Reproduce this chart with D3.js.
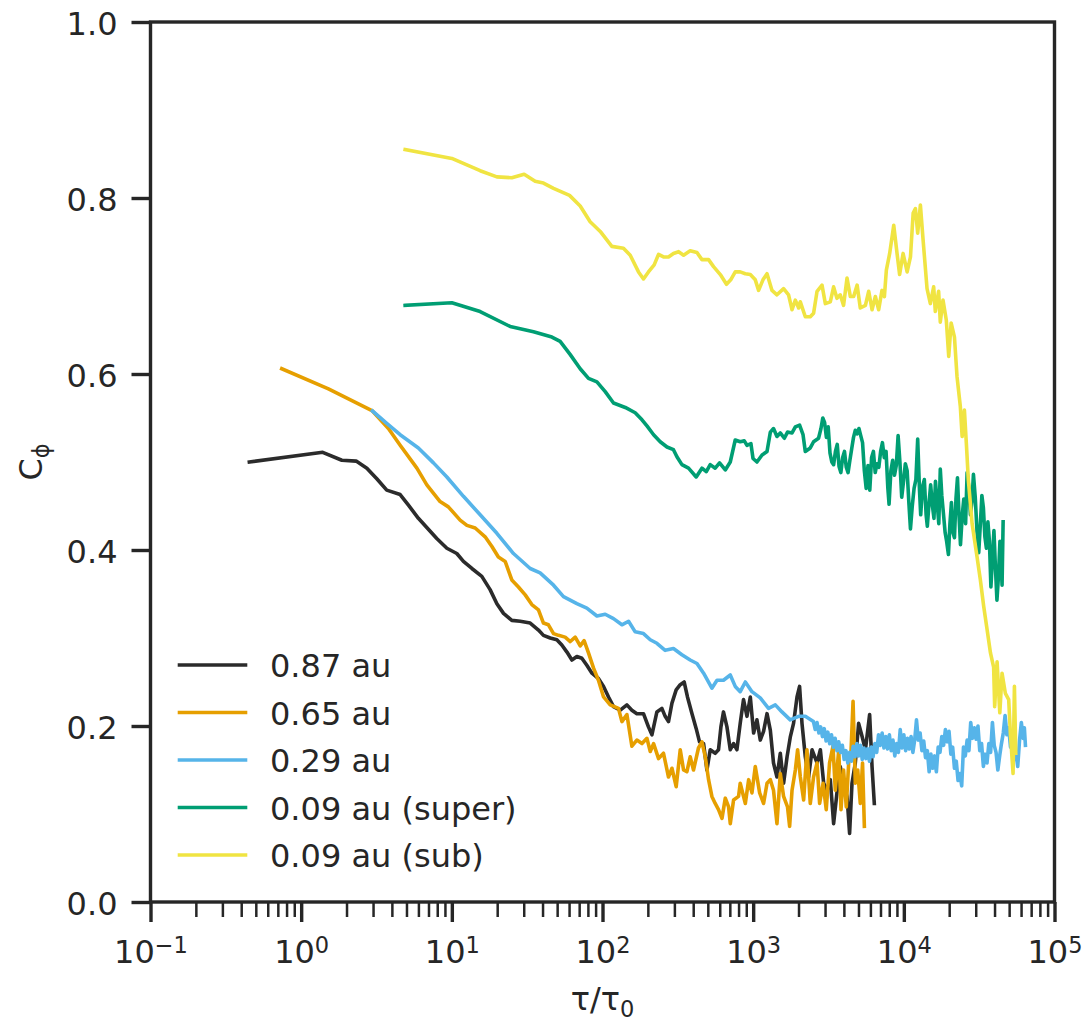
<!DOCTYPE html>
<html>
<head>
<meta charset="utf-8">
<script src="https://cdn.jsdelivr.net/npm/d3@7"></script>
<style>
  body { margin: 0; background: #fff; }
  text { font-family: "DejaVu Sans", sans-serif; fill: #262626; }
</style>
</head>
<body>
<svg id="chart" width="1086" height="1023"></svg>
<script>
// ---- data: lag (log10 of tau/tau0) and correlation C_phi ----
const seriesNames = ["0.87 au", "0.65 au", "0.29 au", "0.09 au (super)", "0.09 au (sub)"];
const xTickExponents = [-1, 0, 1, 2, 3, 4, 5];
const yTickValues = [0, 0.2, 0.4, 0.6, 0.8, 1.0];

const au087 = [[-0.344,0.500],[0.143,0.511],[0.270,0.502],[0.365,0.501],[0.436,0.493],[0.502,0.481],[0.568,0.468],[0.657,0.463],[0.712,0.451],[0.778,0.436],[0.900,0.413],[0.967,0.402],[1.033,0.396],[1.077,0.387],[1.133,0.379],[1.199,0.370],[1.254,0.355],[1.299,0.339],[1.343,0.328],[1.398,0.320],[1.454,0.319],[1.520,0.317],[1.575,0.309],[1.608,0.303],[1.653,0.300],[1.697,0.298],[1.730,0.292],[1.764,0.284],[1.797,0.275],[1.830,0.279],[1.863,0.277],[1.896,0.269],[1.930,0.260],[1.973,0.254],[2.007,0.245],[2.040,0.233],[2.073,0.222],[2.118,0.218],[2.162,0.224],[2.195,0.218],[2.228,0.214],[2.272,0.214],[2.305,0.199],[2.328,0.190],[2.361,0.216],[2.394,0.220],[2.416,0.211],[2.438,0.205],[2.461,0.226],[2.489,0.241],[2.516,0.247],[2.542,0.250],[2.564,0.233],[2.594,0.214],[2.622,0.197],[2.644,0.182],[2.671,0.180],[2.693,0.150],[2.715,0.173],[2.748,0.169],[2.770,0.173],[2.786,0.199],[2.803,0.216],[2.826,0.199],[2.848,0.173],[2.870,0.180],[2.892,0.173],[2.914,0.203],[2.936,0.230],[2.959,0.211],[2.981,0.233],[3.003,0.192],[3.025,0.207],[3.047,0.184],[3.069,0.194],[3.092,0.214],[3.114,0.195],[3.135,0.158],[3.158,0.142],[3.180,0.169],[3.202,0.135],[3.225,0.165],[3.247,0.188],[3.268,0.203],[3.291,0.233],[3.308,0.245],[3.324,0.203],[3.346,0.165],[3.368,0.142],[3.391,0.173],[3.424,0.158],[3.446,0.173],[3.468,0.135],[3.490,0.127],[3.512,0.139],[3.534,0.089],[3.556,0.124],[3.578,0.154],[3.600,0.135],[3.623,0.120],[3.640,0.078],[3.656,0.135],[3.678,0.158],[3.700,0.203],[3.723,0.188],[3.745,0.173],[3.773,0.213],[3.789,0.154],[3.804,0.112]];

const au065 = [[-0.129,0.606],[0.181,0.583],[0.473,0.558],[0.579,0.538],[0.657,0.519],[0.768,0.493],[0.834,0.474],[0.922,0.455],[0.977,0.449],[1.055,0.434],[1.100,0.428],[1.155,0.425],[1.221,0.415],[1.266,0.404],[1.309,0.392],[1.354,0.387],[1.398,0.366],[1.442,0.358],[1.487,0.349],[1.531,0.338],[1.575,0.332],[1.608,0.317],[1.641,0.315],[1.675,0.305],[1.708,0.303],[1.752,0.301],[1.786,0.296],[1.819,0.301],[1.852,0.291],[1.878,0.297],[1.907,0.283],[1.940,0.266],[1.973,0.252],[2.007,0.233],[2.051,0.224],[2.106,0.220],[2.129,0.205],[2.162,0.213],[2.195,0.177],[2.228,0.184],[2.262,0.180],[2.295,0.186],[2.317,0.171],[2.339,0.180],[2.372,0.163],[2.405,0.169],[2.438,0.142],[2.461,0.152],[2.489,0.131],[2.516,0.173],[2.538,0.150],[2.560,0.148],[2.582,0.165],[2.604,0.150],[2.637,0.175],[2.660,0.182],[2.682,0.165],[2.704,0.139],[2.726,0.120],[2.748,0.112],[2.770,0.105],[2.793,0.095],[2.815,0.118],[2.837,0.108],[2.848,0.089],[2.870,0.116],[2.903,0.120],[2.914,0.135],[2.948,0.112],[2.970,0.139],[2.992,0.124],[3.014,0.154],[3.043,0.124],[3.069,0.112],[3.092,0.135],[3.114,0.139],[3.135,0.127],[3.158,0.089],[3.180,0.146],[3.202,0.120],[3.228,0.108],[3.242,0.086],[3.258,0.127],[3.280,0.150],[3.295,0.173],[3.313,0.142],[3.335,0.116],[3.357,0.173],[3.379,0.112],[3.401,0.142],[3.424,0.158],[3.441,0.112],[3.464,0.135],[3.485,0.105],[3.507,0.158],[3.530,0.177],[3.545,0.127],[3.568,0.173],[3.583,0.105],[3.600,0.150],[3.618,0.108],[3.634,0.158],[3.650,0.173],[3.663,0.228],[3.678,0.135],[3.694,0.150],[3.711,0.112],[3.726,0.158],[3.738,0.086]];

const au029 = [[0.473,0.558],[0.568,0.544],[0.657,0.531],[0.778,0.516],[0.878,0.499],[0.967,0.483],[1.077,0.461],[1.188,0.440],[1.299,0.419],[1.409,0.396],[1.520,0.379],[1.586,0.374],[1.675,0.360],[1.741,0.347],[1.830,0.339],[1.896,0.334],[1.963,0.325],[2.018,0.327],[2.073,0.322],[2.129,0.315],[2.173,0.319],[2.217,0.307],[2.272,0.305],[2.317,0.298],[2.361,0.294],[2.416,0.286],[2.471,0.288],[2.527,0.281],[2.582,0.275],[2.627,0.271],[2.671,0.260],[2.726,0.243],[2.760,0.252],[2.803,0.252],[2.848,0.258],[2.881,0.245],[2.914,0.239],[2.948,0.250],[2.992,0.239],[3.047,0.232],[3.102,0.220],[3.147,0.224],[3.191,0.216],[3.246,0.207],[3.302,0.211],[3.346,0.211],
  [3.400,0.205],[3.412,0.196],[3.424,0.204],[3.436,0.192],[3.448,0.199],[3.460,0.188],[3.472,0.197],[3.484,0.183],[3.496,0.193],[3.508,0.180],[3.520,0.190],[3.532,0.176],[3.544,0.186],[3.556,0.172],[3.568,0.182],[3.580,0.170],[3.592,0.178],[3.604,0.162],[3.616,0.172],[3.628,0.158],[3.640,0.170],[3.652,0.160],[3.664,0.177],[3.676,0.165],[3.688,0.180],[3.700,0.166],[3.712,0.178],[3.724,0.162],[3.736,0.175],[3.748,0.163],[3.760,0.174],[3.772,0.160],[3.784,0.176],[3.796,0.165],[3.808,0.180],[3.820,0.170],[3.832,0.190],[3.844,0.178],[3.856,0.192],[3.868,0.175],[3.880,0.188],[3.892,0.174],[3.904,0.190],[3.916,0.172],[3.928,0.184],[3.940,0.166],[3.952,0.180],[3.964,0.170],[3.976,0.196],[3.988,0.175],[4.000,0.190],[4.012,0.172],[4.024,0.186],[4.036,0.174],[4.048,0.188],[4.060,0.170],[4.072,0.184],[4.084,0.207],[4.096,0.184],[4.108,0.192],[4.120,0.172],[4.132,0.183],[4.144,0.164],[4.156,0.172],[4.168,0.148],[4.180,0.168],[4.192,0.152],[4.204,0.166],[4.216,0.148],[4.228,0.176],[4.240,0.170],[4.252,0.188],[4.264,0.178],[4.276,0.196],[4.288,0.182],[4.300,0.194],[4.312,0.168],[4.324,0.176],[4.336,0.152],[4.348,0.160],[4.360,0.138],[4.372,0.146],[4.384,0.132],[4.396,0.176],[4.408,0.166],[4.420,0.184],[4.432,0.172],[4.444,0.204],[4.456,0.186],[4.468,0.198],[4.480,0.185],[4.492,0.200],[4.504,0.172],[4.516,0.180],[4.528,0.154],[4.540,0.168],[4.552,0.158],[4.564,0.180],[4.576,0.170],[4.588,0.204],[4.600,0.178],[4.612,0.170],[4.624,0.150],[4.636,0.166],[4.648,0.180],[4.660,0.192],[4.672,0.212],[4.684,0.190],[4.696,0.198],[4.708,0.176],[4.720,0.182],[4.732,0.162],[4.744,0.170],[4.756,0.154],[4.768,0.184],[4.780,0.204],[4.792,0.186],[4.800,0.198],[4.807,0.178]];

const au009super = [[0.690,0.678],[1.000,0.681],[1.188,0.671],[1.387,0.654],[1.542,0.648],[1.664,0.642],[1.719,0.637],[1.786,0.622],[1.852,0.606],[1.907,0.595],[1.963,0.591],[2.018,0.580],[2.073,0.567],[2.151,0.562],[2.217,0.556],[2.262,0.548],[2.295,0.541],[2.339,0.531],[2.383,0.523],[2.428,0.517],[2.471,0.514],[2.494,0.506],[2.527,0.497],[2.571,0.493],[2.622,0.483],[2.660,0.493],[2.689,0.489],[2.715,0.497],[2.748,0.493],[2.777,0.499],[2.815,0.491],[2.848,0.500],[2.881,0.525],[2.914,0.523],[2.941,0.524],[2.959,0.519],[2.985,0.521],[2.999,0.504],[3.025,0.500],[3.059,0.508],[3.092,0.512],[3.114,0.534],[3.135,0.538],[3.158,0.529],[3.180,0.533],[3.207,0.527],[3.228,0.534],[3.258,0.533],[3.280,0.540],[3.308,0.542],[3.331,0.531],[3.346,0.512],[3.379,0.516],[3.401,0.523],[3.434,0.527],
  [3.450,0.538],[3.462,0.550],[3.474,0.545],[3.486,0.528],[3.498,0.540],[3.510,0.510],[3.522,0.500],[3.534,0.497],[3.546,0.512],[3.558,0.520],[3.570,0.495],[3.582,0.488],[3.594,0.505],[3.606,0.512],[3.618,0.494],[3.630,0.488],[3.642,0.502],[3.654,0.515],[3.666,0.528],[3.678,0.536],[3.690,0.532],[3.702,0.538],[3.714,0.530],[3.726,0.522],[3.738,0.490],[3.750,0.470],[3.762,0.496],[3.774,0.468],[3.786,0.505],[3.798,0.512],[3.810,0.488],[3.822,0.498],[3.834,0.494],[3.846,0.512],[3.858,0.522],[3.870,0.505],[3.882,0.512],[3.894,0.470],[3.902,0.452],[3.914,0.490],[3.926,0.502],[3.938,0.485],[3.950,0.496],[3.962,0.530],[3.974,0.500],[3.986,0.460],[3.998,0.478],[4.010,0.498],[4.022,0.490],[4.034,0.452],[4.044,0.424],[4.056,0.450],[4.068,0.470],[4.080,0.480],[4.092,0.526],[4.104,0.468],[4.112,0.440],[4.124,0.472],[4.136,0.480],[4.148,0.440],[4.156,0.427],[4.168,0.455],[4.178,0.474],[4.190,0.450],[4.200,0.436],[4.210,0.478],[4.222,0.452],[4.232,0.430],[4.242,0.492],[4.252,0.462],[4.262,0.443],[4.274,0.420],[4.284,0.410],[4.296,0.395],[4.306,0.430],[4.316,0.454],[4.326,0.420],[4.336,0.414],[4.346,0.458],[4.356,0.482],[4.366,0.440],[4.376,0.406],[4.388,0.440],[4.398,0.458],[4.410,0.430],[4.420,0.488],[4.432,0.470],[4.442,0.440],[4.452,0.455],[4.462,0.486],[4.474,0.460],[4.486,0.420],[4.497,0.397],[4.508,0.430],[4.518,0.462],[4.528,0.448],[4.538,0.415],[4.548,0.402],[4.558,0.432],[4.568,0.410],[4.578,0.358],[4.588,0.390],[4.598,0.422],[4.608,0.380],[4.618,0.343],[4.628,0.370],[4.638,0.410],[4.646,0.385],[4.652,0.360],[4.659,0.432]];

const au009sub = [[0.690,0.855],[1.000,0.845],[1.188,0.831],[1.299,0.824],[1.398,0.823],[1.480,0.827],[1.553,0.819],[1.608,0.817],[1.675,0.811],[1.781,0.803],[1.852,0.791],[1.918,0.773],[1.985,0.762],[2.062,0.745],[2.139,0.743],[2.184,0.735],[2.239,0.716],[2.272,0.708],[2.305,0.716],[2.343,0.724],[2.372,0.736],[2.405,0.733],[2.438,0.733],[2.471,0.737],[2.505,0.739],[2.538,0.735],[2.582,0.740],[2.627,0.738],[2.660,0.730],[2.704,0.730],[2.737,0.722],[2.782,0.713],[2.823,0.702],[2.851,0.707],[2.881,0.716],[2.914,0.716],[2.948,0.714],[2.981,0.713],[3.014,0.707],[3.036,0.695],[3.065,0.707],[3.092,0.714],[3.125,0.695],[3.158,0.690],[3.202,0.697],[3.235,0.690],[3.258,0.673],[3.280,0.684],[3.302,0.675],[3.313,0.682],[3.346,0.665],[3.379,0.665],[3.401,0.669],[3.424,0.694],[3.457,0.701],[3.479,0.680],[3.512,0.682],[3.534,0.699],[3.556,0.686],[3.578,0.690],[3.600,0.678],[3.623,0.709],[3.645,0.688],[3.667,0.688],[3.690,0.701],[3.711,0.675],[3.745,0.678],[3.767,0.694],[3.789,0.673],[3.811,0.688],[3.833,0.673],[3.855,0.695],[3.871,0.688],[3.884,0.718],[3.906,0.737],[3.933,0.769],[3.955,0.737],[3.972,0.713],[3.995,0.737],[4.022,0.716],[4.044,0.733],[4.062,0.783],[4.077,0.788],[4.092,0.760],[4.110,0.792],[4.128,0.752],[4.154,0.697],[4.176,0.680],[4.198,0.699],[4.209,0.671],[4.231,0.694],[4.242,0.659],[4.260,0.684],[4.282,0.661],[4.298,0.620],[4.314,0.658],[4.336,0.642],[4.353,0.597],[4.375,0.563],[4.387,0.529],[4.402,0.559],[4.415,0.521],[4.428,0.480],[4.453,0.430],[4.486,0.392],[4.508,0.366],[4.530,0.336],[4.553,0.309],[4.575,0.283],[4.596,0.267],[4.603,0.222],[4.619,0.273],[4.637,0.215],[4.652,0.260],[4.674,0.237],[4.696,0.230],[4.707,0.192],[4.725,0.146],[4.734,0.245],[4.743,0.169]];

const seriesData = [au087, au065, au029, au009super, au009sub];
const seriesColors = ["#2b2b2b", "#e69f00", "#56b4e9", "#009e73", "#f0e442"];

// ---- layout ----
const ink = "#262626";
const fontSize = 32, scriptSize = 22.5;
const plot = { left: 150.5, right: 1054.5, top: 22, bottom: 902 };

const svg = d3.select("#chart");
const x = d3.scaleLog().domain([1e-1, 1e5]).range([plot.left, plot.right]);
const y = d3.scaleLinear().domain([0, 1]).range([plot.bottom, plot.top]);

svg.append("defs").append("clipPath").attr("id", "plot-clip")
  .append("rect")
  .attr("x", plot.left).attr("y", plot.top)
  .attr("width", plot.right - plot.left).attr("height", plot.bottom - plot.top);

// ---- series lines ----
const line = d3.line()
  .x(d => x(Math.pow(10, d[0])))
  .y(d => y(d[1]));

const lines = svg.append("g").attr("clip-path", "url(#plot-clip)");
seriesData.forEach((pts, i) => {
  lines.append("path")
    .datum(pts)
    .attr("d", line)
    .attr("fill", "none")
    .attr("stroke", seriesColors[i])
    .attr("stroke-width", 3.6)
    .attr("stroke-linejoin", "round")
    .attr("stroke-linecap", "square");
});

// ---- x axis: minor and major ticks ----
const minorTicks = [];
for (let e = -1; e < 5; e++) for (let m = 2; m <= 9; m++) minorTicks.push(m * Math.pow(10, e));

const gMinor = svg.append("g").attr("transform", `translate(0,${plot.bottom})`)
  .call(d3.axisBottom(x).tickValues(minorTicks).tickSize(15).tickFormat(""));
gMinor.select(".domain").remove();
gMinor.selectAll("line").attr("stroke", ink).attr("stroke-width", 2.5);

const gx = svg.append("g").attr("transform", `translate(0,${plot.bottom})`)
  .call(d3.axisBottom(x).tickValues(xTickExponents.map(e => Math.pow(10, e))).tickSize(20).tickFormat(""));
gx.select(".domain").remove();
gx.selectAll("line").attr("stroke", ink).attr("stroke-width", 3.4);
gx.selectAll(".tick").each(function (d, i) {
  const t = d3.select(this).append("text")
    .attr("y", 61).attr("text-anchor", "middle")
    .style("font-size", fontSize + "px");
  t.append("tspan").text("10");
  t.append("tspan").attr("dy", -10).style("font-size", scriptSize + "px")
    .text(String(xTickExponents[i]).replace("-", "\u2212"));
});

// ---- y axis ----
const gy = svg.append("g").attr("transform", `translate(${plot.left},0)`)
  .call(d3.axisLeft(y).tickValues(yTickValues).tickSize(19).tickPadding(14).tickFormat(d3.format(".1f")));
gy.select(".domain").remove();
gy.selectAll("line").attr("stroke", ink).attr("stroke-width", 3.4);
gy.selectAll("text").attr("dy", 12).style("font-size", fontSize + "px").attr("fill", ink);

// ---- frame ----
svg.append("rect")
  .attr("x", plot.left).attr("y", plot.top)
  .attr("width", plot.right - plot.left).attr("height", plot.bottom - plot.top)
  .attr("fill", "none").attr("stroke", ink).attr("stroke-width", 3.4);

// ---- axis titles ----
const xTitle = svg.append("text")
  .attr("x", (plot.left + plot.right) / 2).attr("y", 1010)
  .attr("text-anchor", "middle").style("font-size", fontSize + "px");
xTitle.append("tspan").text("\u03c4/\u03c4");
xTitle.append("tspan").attr("dy", 7).style("font-size", scriptSize + "px").text("0");

const yTitle = svg.append("text")
  .attr("transform", `translate(42,${(plot.top + plot.bottom) / 2}) rotate(-90)`)
  .attr("text-anchor", "middle").style("font-size", fontSize + "px");
yTitle.append("tspan").text("C");
yTitle.append("tspan").attr("dy", 7).style("font-size", scriptSize + "px").text("\u03d5");

// ---- legend ----
const legend = svg.append("g");
seriesNames.forEach((name, i) => {
  const ly = 665 + i * 47.5;
  legend.append("line")
    .attr("x1", 179.5).attr("x2", 245.5).attr("y1", ly).attr("y2", ly)
    .attr("stroke", seriesColors[i]).attr("stroke-width", 3.6)
    .attr("stroke-linecap", "square");
  legend.append("text")
    .attr("x", 270).attr("y", ly + 12)
    .style("font-size", fontSize + "px").text(name);
});
</script>
</body>
</html>
